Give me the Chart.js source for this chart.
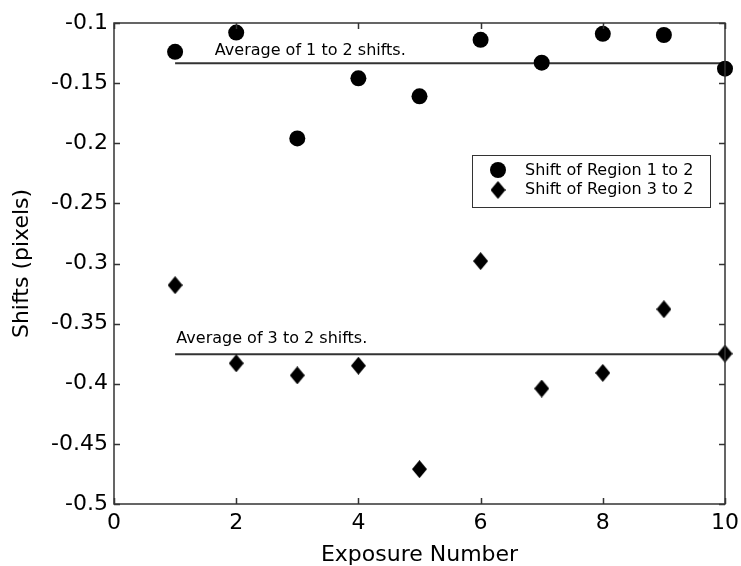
<!DOCTYPE html>
<html>
<head>
<meta charset="utf-8">
<script src="https://cdn.jsdelivr.net/npm/chart.js@4"></script>
<style>
  body { margin: 0; background: #fff; }
  #wrap { width: 741px; height: 566px; position: relative; }
</style>
</head>
<body>
<div id="wrap"><canvas id="shiftChart"></canvas></div>
<script>
const exposure = [1, 2, 3, 4, 5, 6, 7, 8, 9, 10];
const shift12 = [-0.124, -0.108, -0.196, -0.146, -0.161, -0.114, -0.133, -0.109, -0.110, -0.138];
const shift32 = [-0.318, -0.383, -0.393, -0.385, -0.471, -0.298, -0.404, -0.391, -0.338, -0.375];
const avg12 = -0.1335;
const avg32 = -0.3755;
const seriesNames = ['Shift of Region 1 to 2', 'Shift of Region 3 to 2'];
const avgNames = ['Average of 1 to 2 shifts.', 'Average of 3 to 2 shifts.'];
const xTickValues = [0, 2, 4, 6, 8, 10];
const xTickLabels = ['0', '2', '4', '6', '8', '10'];
const yTickValues = [-0.5, -0.45, -0.4, -0.35, -0.3, -0.25, -0.2, -0.15, -0.1];
const yTickLabels = ['-0.5', '-0.45', '-0.4', '-0.35', '-0.3', '-0.25', '-0.2', '-0.15', '-0.1'];

const ink = '#000';
const frame = '#333';

// diamond marker, a bit taller than wide
function makeDiamond(w, h) {
    const c = document.createElement('canvas');
    c.width = w; c.height = h;
    const g = c.getContext('2d');
    g.fillStyle = ink;
    g.beginPath();
    g.moveTo(w / 2, 0);
    g.lineTo(w, h / 2);
    g.lineTo(w / 2, h);
    g.lineTo(0, h / 2);
    g.closePath();
    g.fill();
    return c;
}
const diamond = makeDiamond(15, 18);

const pts = (ys) => exposure.map((x, i) => ({ x: x, y: ys[i] }));
const flat = (v) => [{ x: exposure[0], y: v }, { x: exposure[exposure.length - 1], y: v }];

const framePlugin = {
    id: 'framePlugin',
    afterDraw(chart) {
        const { ctx, chartArea: a, scales: { x, y } } = chart;
        ctx.save();
        ctx.strokeStyle = frame;
        ctx.lineWidth = 1.5;
        ctx.strokeRect(a.left, a.top, a.right - a.left, a.bottom - a.top);
        const len = 6;
        ctx.beginPath();
        xTickValues.forEach(v => {
            const px = Math.round(x.getPixelForValue(v)) + 0.5;
            ctx.moveTo(px, a.bottom); ctx.lineTo(px, a.bottom - len);
            ctx.moveTo(px, a.top); ctx.lineTo(px, a.top + len);
        });
        yTickValues.forEach(v => {
            const py = Math.round(y.getPixelForValue(v)) + 0.5;
            ctx.moveTo(a.left, py); ctx.lineTo(a.left + len, py);
            ctx.moveTo(a.right, py); ctx.lineTo(a.right - len, py);
        });
        ctx.stroke();

        // average labels
        ctx.fillStyle = ink;
        ctx.font = '16px "DejaVu Sans"';
        ctx.textBaseline = 'alphabetic';
        ctx.textAlign = 'left';
        ctx.fillText(avgNames[0], x.getPixelForValue(1.65), y.getPixelForValue(avg12) - 8);
        ctx.fillText(avgNames[1], x.getPixelForValue(1.02), y.getPixelForValue(avg32) - 11);

        // legend box
        const lx = 472, ly = 155, lw = 238, lh = 52;
        ctx.fillStyle = '#fff';
        ctx.fillRect(lx, ly, lw, lh);
        ctx.lineWidth = 1;
        ctx.strokeRect(lx + 0.5, ly + 0.5, lw, lh);
        ctx.fillStyle = ink;
        ctx.beginPath();
        ctx.arc(lx + 26, ly + 15, 8, 0, Math.PI * 2);
        ctx.fill();
        ctx.drawImage(diamond, lx + 26 - 7.5, ly + 35 - 9);
        ctx.textBaseline = 'middle';
        ctx.fillText(seriesNames[0], lx + 53, ly + 16);
        ctx.fillText(seriesNames[1], lx + 53, ly + 35);
        ctx.restore();
    }
};

const ctx = document.getElementById('shiftChart').getContext('2d');
new Chart(ctx, {
    type: 'scatter',
    data: {
        datasets: [
            {
                label: seriesNames[0],
                data: pts(shift12),
                pointStyle: 'circle',
                pointRadius: 8,
                pointBackgroundColor: ink,
                pointBorderColor: ink,
                pointBorderWidth: 0,
                clip: false,
                order: 1
            },
            {
                label: seriesNames[1],
                data: pts(shift32),
                pointStyle: diamond,
                clip: false,
                order: 1
            },
            {
                label: avgNames[0],
                data: flat(avg12),
                showLine: true,
                borderColor: frame,
                borderWidth: 2,
                pointRadius: 0,
                order: 2
            },
            {
                label: avgNames[1],
                data: flat(avg32),
                showLine: true,
                borderColor: frame,
                borderWidth: 2,
                pointRadius: 0,
                order: 2
            }
        ]
    },
    options: {
        responsive: true,
        maintainAspectRatio: false,
        animation: false,
        layout: { padding: { left: 0, right: 16, top: 23, bottom: 0 } },
        plugins: { legend: { display: false }, tooltip: { enabled: false } },
        scales: {
            x: {
                type: 'linear',
                min: 0, max: 10,
                afterBuildTicks: s => { s.ticks = xTickValues.map(v => ({ value: v })); },
                afterFit: s => { s.height = 62; s.paddingLeft = 0; s.paddingRight = 0; },
                grid: { display: false, drawTicks: false },
                border: { display: false },
                ticks: {
                    padding: 6,
                    color: ink,
                    font: { family: 'DejaVu Sans', size: 22 },
                    callback: v => xTickLabels[xTickValues.indexOf(v)]
                },
                title: {
                    display: true,
                    text: 'Exposure Number',
                    color: ink,
                    font: { family: 'DejaVu Sans', size: 22, lineHeight: 1 },
                    padding: { top: 0, bottom: 0 }
                }
            },
            y: {
                type: 'linear',
                min: -0.5, max: -0.1,
                afterBuildTicks: s => { s.ticks = yTickValues.map(v => ({ value: v })); },
                afterFit: s => { s.width = 114; s.paddingTop = 0; s.paddingBottom = 0; },
                grid: { display: false, drawTicks: false },
                border: { display: false },
                ticks: {
                    padding: 6,
                    color: ink,
                    font: { family: 'DejaVu Sans', size: 22 },
                    callback: v => yTickLabels[yTickValues.findIndex(t => Math.abs(t - v) < 1e-9)]
                },
                title: {
                    display: true,
                    text: 'Shifts (pixels)',
                    color: ink,
                    font: { family: 'DejaVu Sans', size: 22, lineHeight: 1 },
                    padding: { top: 11, bottom: 0 }
                }
            }
        }
    },
    plugins: [framePlugin]
});
</script>
</body>
</html>
